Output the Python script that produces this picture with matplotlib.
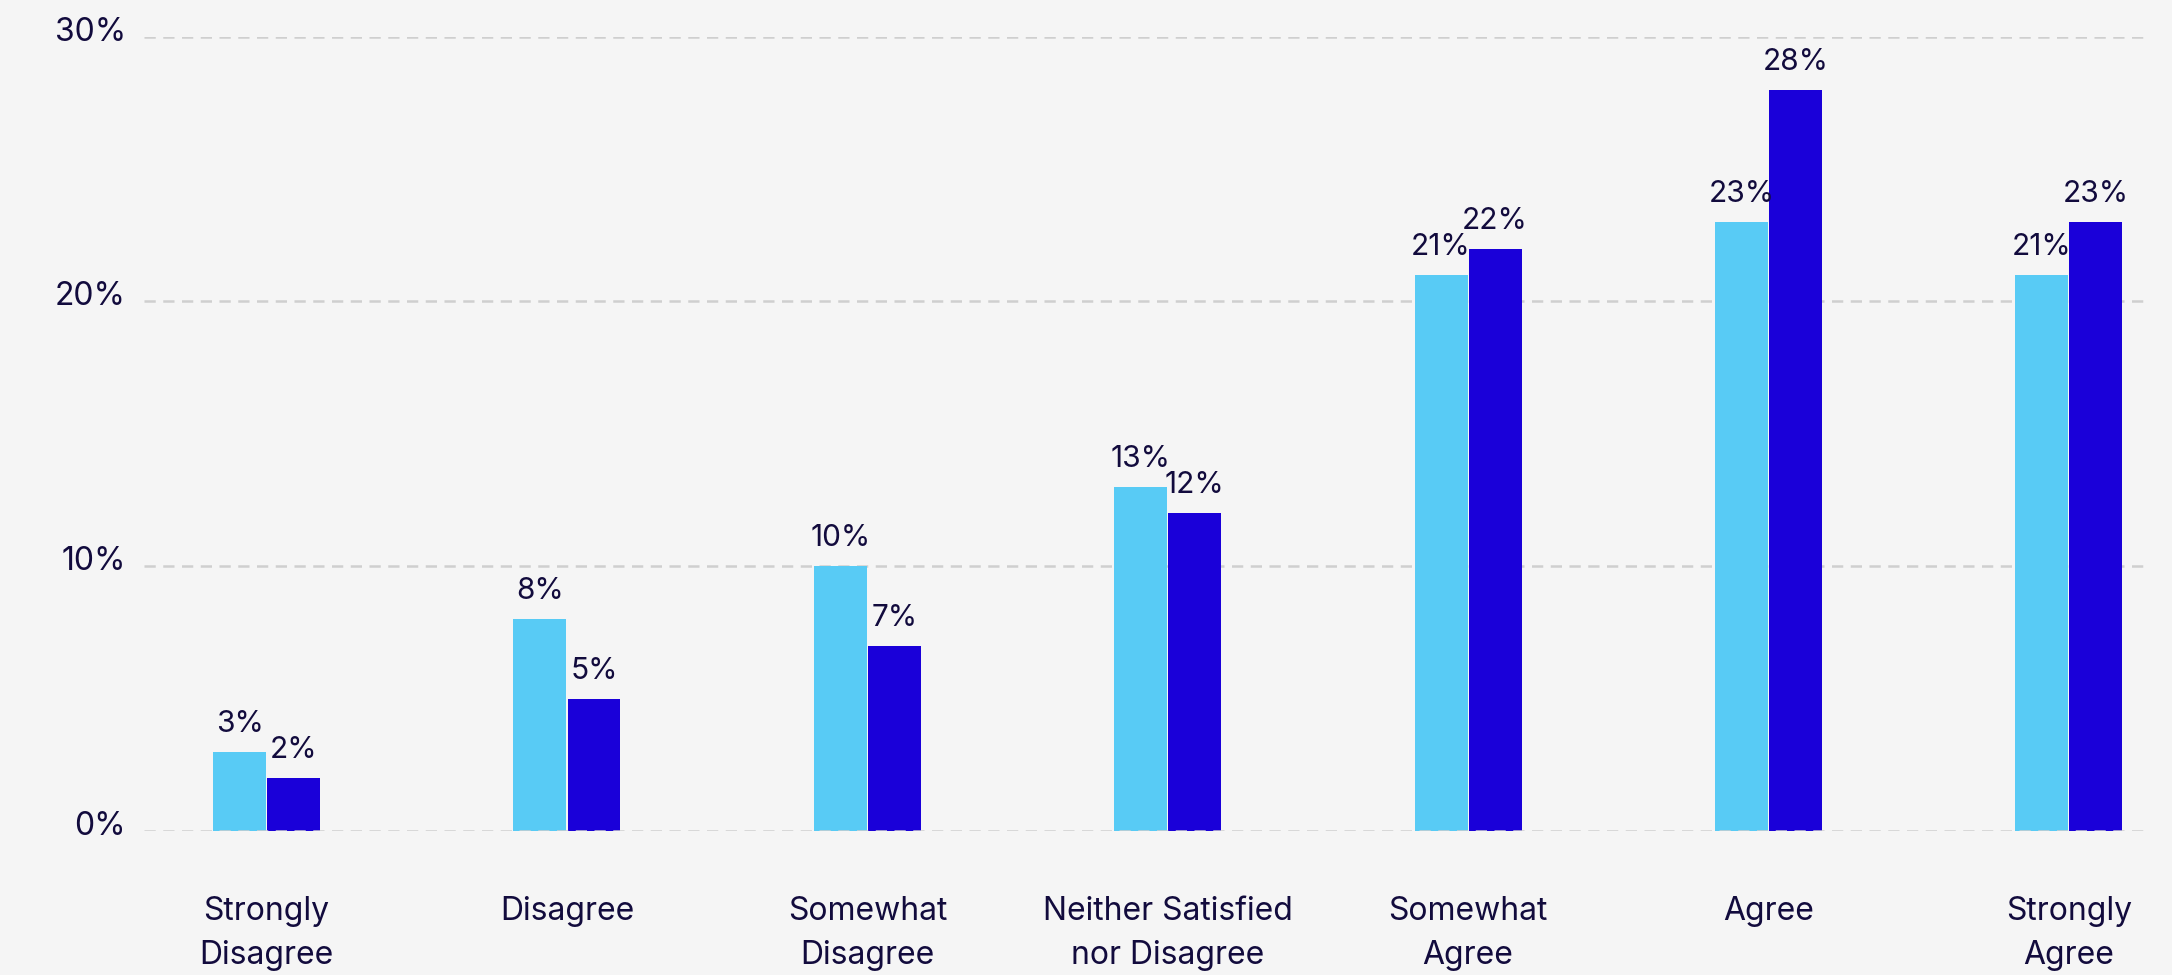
import numpy as np
import matplotlib
matplotlib.use('Agg')
import matplotlib.pyplot as plt
import matplotlib.transforms as mtrans

categories = ['Strongly\nDisagree', 'Disagree', 'Somewhat\nDisagree', 'Neither Satisfied\nnor Disagree',
              'Somewhat\nAgree', 'Agree', 'Strongly\nAgree']
serie_a = [3, 8, 10, 13, 21, 23, 21]
serie_b = [2, 5, 7, 12, 22, 28, 23]
yticks = [0, 10, 20, 30]
ytick_labels = ['0%', '10%', '20%', '30%']

bg = '#f5f5f5'
svetla = '#58cbf5'
temna = '#1a00d9'
tekst = '#120b3d'
mreza = '#cfcfcf'

plt.rcParams['font.family'] = ['Inter', 'DejaVu Sans']

fig = plt.figure(figsize=(21.72, 9.75), dpi=100, facecolor=bg)
ax = fig.add_axes([144/2172, 144/975, (2150-144)/2172, (938.3-144)/975])
ax.set_facecolor(bg)

x = np.arange(len(categories))
sirina = 0.176
ax.bar(x - 0.09, serie_a, sirina, color=svetla, zorder=2)
ax.bar(x + 0.09, serie_b, sirina, color=temna, zorder=2)

for i in range(len(x)):
    ax.annotate(str(serie_a[i]) + '%', (x[i] - 0.09, serie_a[i]), xytext=(0, 10),
                textcoords='offset points', ha='center', va='bottom', fontsize=21.5, color=tekst)
    ax.annotate(str(serie_b[i]) + '%', (x[i] + 0.09, serie_b[i]), xytext=(0, 10),
                textcoords='offset points', ha='center', va='bottom', fontsize=21.5, color=tekst)

# mreza
for y in yticks[1:]:
    ax.axhline(y, color=mreza, lw=1.8, ls=(0, (4.5, 3)), zorder=1)
ax.axhline(0, color=mreza, lw=1.8, ls=(0, (4.5, 3)), zorder=3)

ax.set_xlim(-0.408, 6.27)
ax.set_ylim(0, 30)
ax.set_yticks(yticks)
ax.set_yticklabels(ytick_labels, fontsize=23, color=tekst)
ax.set_xticks(x)
ax.set_xticklabels(categories, fontsize=23, color=tekst, linespacing=1.55, va='top')
ax.tick_params(axis='both', length=0)
ax.tick_params(axis='y', pad=13)
ax.tick_params(axis='x', pad=47)
for lab in ax.get_yticklabels():
    lab.set_transform(lab.get_transform() + mtrans.ScaledTranslation(0, 8/100, fig.dpi_scale_trans))
for s in ax.spines.values():
    s.set_visible(False)

plt.savefig('out.png', dpi=100, facecolor=bg)
